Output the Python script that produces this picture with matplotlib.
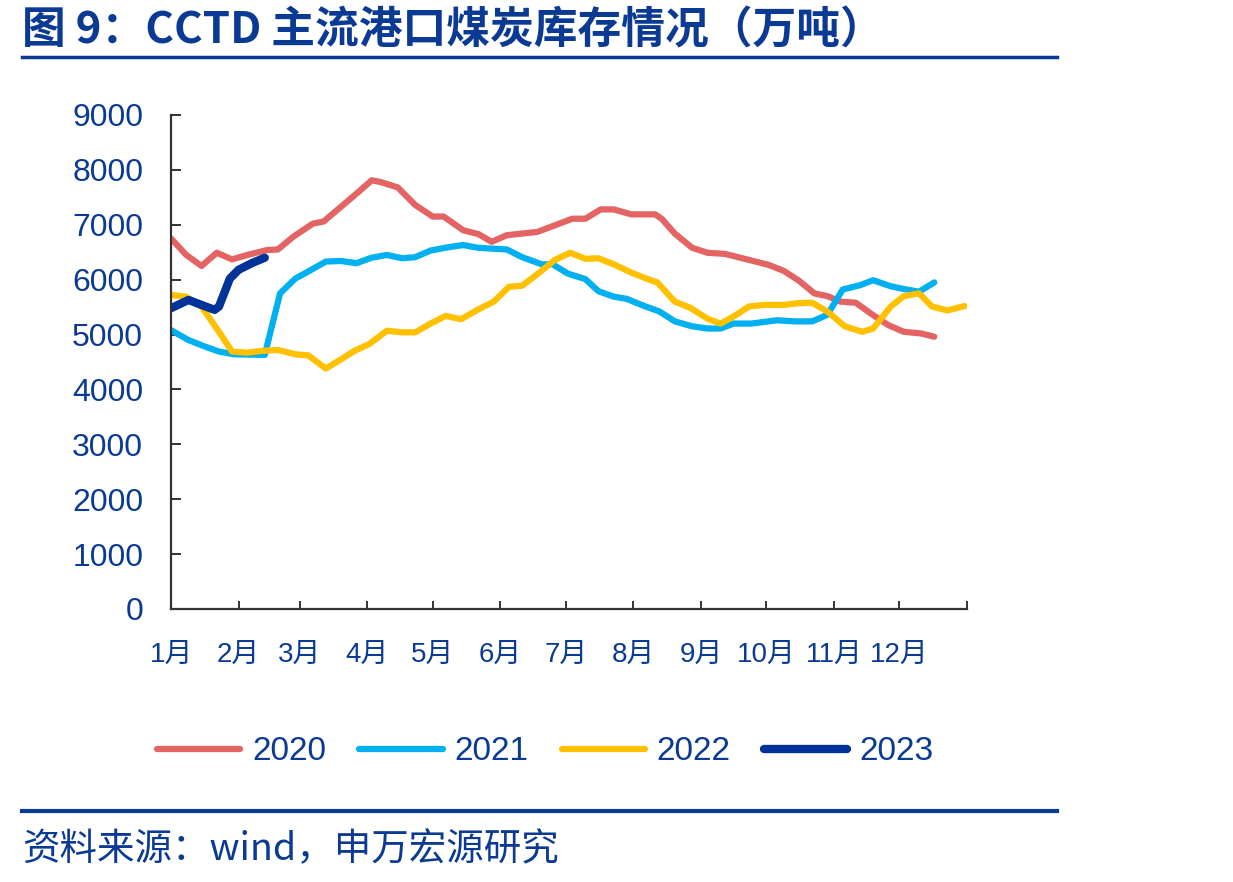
import matplotlib
matplotlib.use("Agg")
import matplotlib.pyplot as plt
from matplotlib.lines import Line2D

plt.rcParams['font.family'] = ['Liberation Sans', 'Noto Sans CJK SC', 'DejaVu Sans']

# day of year / weekly inventory (10k tonnes)
days_2020 = [0, 7, 14, 21, 28, 35, 44, 49, 56, 65, 70, 78, 86, 92, 96, 104, 112, 120, 125,
             134, 141, 147, 154, 168, 176, 184, 190, 197, 203, 211, 222, 225, 231, 239, 246,
             254, 265, 274, 281, 288, 295, 301, 307, 314, 321, 329, 336, 344, 350]
vals_2020 = [6750, 6450, 6250, 6490, 6370, 6450, 6540, 6550, 6780, 7020, 7060, 7330, 7600,
             7810, 7780, 7680, 7360, 7150, 7150, 6900, 6830, 6690, 6810, 6870, 6990, 7110,
             7110, 7280, 7280, 7190, 7190, 7110, 6840, 6580, 6490, 6470, 6360, 6270, 6160,
             5980, 5750, 5700, 5600, 5580, 5380, 5170, 5050, 5020, 4960]

days_2021 = [0, 8, 15, 22, 29, 43, 50, 57, 63, 71, 78, 85, 92, 99, 106, 112, 119, 127, 134,
             141, 154, 161, 170, 175, 182, 190, 196, 203, 209, 217, 224, 231, 239, 246, 252,
             258, 266, 278, 286, 294, 301, 308, 316, 322, 330, 336, 343, 350]
vals_2021 = [5080, 4900, 4790, 4690, 4640, 4630, 5750, 6020, 6150, 6330, 6340, 6300, 6400,
             6450, 6390, 6410, 6530, 6590, 6630, 6580, 6550, 6410, 6280, 6280, 6110, 6010,
             5790, 5690, 5650, 5520, 5420, 5240, 5150, 5110, 5110, 5200, 5200, 5260, 5240,
             5240, 5360, 5820, 5900, 5990, 5880, 5830, 5780, 5950]

days_2022 = [0, 7, 14, 22, 28, 35, 41, 49, 57, 63, 71, 78, 84, 91, 99, 106, 112, 119, 126,
             133, 141, 148, 155, 161, 168, 176, 183, 190, 196, 203, 211, 218, 223, 231, 238,
             246, 252, 258, 265, 272, 281, 287, 294, 301, 309, 317, 322, 330, 336, 343, 349,
             356, 364]
vals_2022 = [5720, 5690, 5510, 5050, 4690, 4670, 4700, 4720, 4640, 4620, 4380, 4550, 4700,
             4830, 5070, 5040, 5040, 5200, 5340, 5280, 5460, 5600, 5870, 5890, 6100, 6360,
             6490, 6380, 6390, 6280, 6130, 6020, 5950, 5600, 5490, 5290, 5200, 5330, 5510,
             5540, 5540, 5570, 5580, 5420, 5150, 5050, 5110, 5510, 5700, 5750, 5510, 5440,
             5520]

days_2023 = [0, 8, 14, 20, 22, 27, 31, 37, 43]
vals_2023 = [5480, 5630, 5540, 5450, 5510, 6020, 6180, 6300, 6400]

month_starts = [0, 31, 59, 90, 120, 151, 181, 212, 243, 273, 304, 334, 365]
month_labels = ["1月", "2月", "3月", "4月", "5月", "6月", "7月", "8月", "9月",
                "10月", "11月", "12月", ""]
y_ticks = list(range(0, 9001, 1000))

BLUE_TXT = "#0A3A94"
series = [
    ("2020", days_2020, vals_2020, "#E46464", 4.5),
    ("2021", days_2021, vals_2021, "#00B0F0", 4.5),
    ("2022", days_2022, vals_2022, "#FFC000", 4.5),
    ("2023", days_2023, vals_2023, "#003399", 6.0),
]

fig = plt.figure(figsize=(12.33, 8.82), dpi=100)
ax = fig.add_axes([171 / 1233, 1 - 609 / 882, (967 - 171) / 1233, (609 - 115) / 882])

handles = []
for name, d, v, c, lw in series:
    ax.plot(d, v, color=c, lw=lw, solid_joinstyle="round", solid_capstyle="round")
    handles.append(Line2D([], [], color=c, lw=lw, solid_capstyle="round", label=name))

ax.set_xlim(0, 365)
ax.set_ylim(0, 9000)
ax.set_yticks(y_ticks)
ax.set_xticks(month_starts)
ax.set_xticklabels(month_labels)
for s in ("top", "right"):
    ax.spines[s].set_visible(False)
for s in ("left", "bottom"):
    ax.spines[s].set_color("#333333")
    ax.spines[s].set_linewidth(1.6)
ax.tick_params(axis="y", direction="in", length=7, width=1.4, colors="#333333",
               labelcolor=BLUE_TXT, labelsize=23, pad=20)
ax.tick_params(axis="x", direction="in", length=6, width=1.4, colors="#333333",
               labelcolor=BLUE_TXT, labelsize=20, pad=24)

fig.legend(handles=handles, loc="center", bbox_to_anchor=(545 / 1233, 1 - 752 / 882),
           ncol=4, frameon=False, fontsize=24, handlelength=2.5, handletextpad=0.35,
           columnspacing=1.0, labelcolor=BLUE_TXT)

fig.text(22 / 1233, 1 - 30 / 882, "图 9：CCTD 主流港口煤炭库存情况（万吨）",
         family=["Noto Sans CJK SC", "DejaVu Sans"], fontweight="bold", fontsize=31.5,
         color=BLUE_TXT, ha="left", va="center")
fig.add_artist(Line2D([22 / 1233, 1057 / 1233], [1 - 57 / 882, 1 - 57 / 882],
                      color=BLUE_TXT, lw=2.5))
fig.add_artist(Line2D([22 / 1233, 1057 / 1233], [1 - 811 / 882, 1 - 811 / 882],
                      color=BLUE_TXT, lw=3))
fig.text(22 / 1233, 1 - 850 / 882, "资料来源：wind，申万宏源研究",
         family=["Noto Sans CJK SC", "DejaVu Sans"], fontsize=27,
         color=BLUE_TXT, ha="left", va="center")

fig.savefig("out.png", dpi=100)
